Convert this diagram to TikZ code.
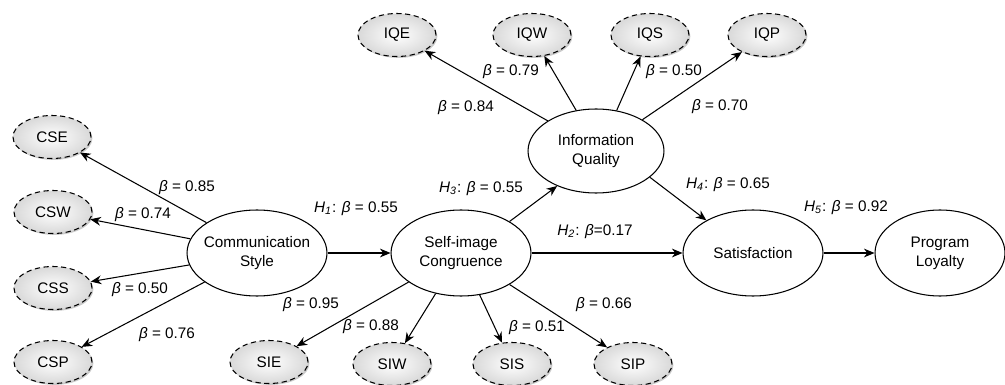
\documentclass[tikz,border=0pt]{standalone}
\usepackage{fontspec}
\setmainfont{Liberation Sans}
\usetikzlibrary{shapes.geometric,arrows.meta,shadows}

\newcommand{\bt}{\textit{β}}
\newcommand{\hyp}[1]{\textit{H\textsubscript{#1}}}

\tikzset{
  construct/.style={ellipse, draw, line width=0.6pt, align=center, inner xsep=-3pt, inner ysep=0pt,
    minimum width=2.8cm, minimum height=1.72cm, font=\fontsize{8.7}{10.8}\selectfont},
  indicator/.style={ellipse, draw, dash pattern=on 3pt off 2pt, line width=0.6pt, inner sep=0pt,
    minimum width=1.56cm, minimum height=0.86cm, inner color=white, outer color=gray!30,
    drop shadow={shadow xshift=0.8pt, shadow yshift=-0.8pt, fill=gray!70, opacity=0.6},
    font=\fontsize{8.7}{10.8}\selectfont},
  link/.style={-{Stealth[length=6pt,width=5pt]}, line width=0.6pt},
  coef/.style={inner sep=1pt, font=\fontsize{8.7}{10.8}\selectfont}
}

\begin{document}
\begin{tikzpicture}[x=0.02cm, y=-0.02cm]
        \useasboundingbox (0,0) rectangle (1005,385);
        % constructs
        \node[construct] (cs) at (257,253) {Communication\\Style};
        \node[construct] (si) at (461,253) {Self-image\\Congruence};
        \node[construct, minimum width=2.72cm, minimum height=1.68cm] (iq) at (596,151) {Information\\Quality};
        \node[construct] (sat) at (753,253) {Satisfaction};
        \node[construct, minimum width=2.6cm] (pl) at (940,253) {Program\\Loyalty};
        % indicators
        \node[indicator] (cse) at (52,137) {CSE};
        \node[indicator] (csw) at (53,212) {CSW};
        \node[indicator] (css) at (53,288) {CSS};
        \node[indicator] (csp) at (53,362) {CSP};
        \node[indicator] (sie) at (269,362) {SIE};
        \node[indicator] (siw) at (392,364) {SIW};
        \node[indicator] (sis) at (512,364) {SIS};
        \node[indicator] (sip) at (633,364) {SIP};
        \node[indicator] (iqe) at (397,35) {IQE};
        \node[indicator] (iqw) at (532,35) {IQW};
        \node[indicator] (iqs) at (650,35) {IQS};
        \node[indicator] (iqp) at (767,35) {IQP};
        % structural paths
        \draw[link] (cs) -- (si);
        \draw[link] (si) -- (sat);
        \draw[link] (si.33) -- (iq.222);
        \draw[link] (iq.-26) -- (sat.145);
        \draw[link] (sat) -- (pl);
        % loadings
        \draw[link] (cs.149) -- (cse);
        \draw[link] (cs.168) -- (csw);
        \draw[link] (cs.190) -- (css);
        \draw[link] (cs.209) -- (csp);
        \draw[link] (si.209) -- (sie);
        \draw[link] (si.238) -- (siw);
        \draw[link] (si.294) -- (sis);
        \draw[link] (si.327) -- (sip);
        \draw[link] (iq.148) -- (iqe);
        \draw[link] (iq.116) -- (iqw);
        \draw[link] (iq.63) -- (iqs);
        \draw[link] (iq.34) -- (iqp);
        % coefficients
        \node[coef] (h1) at (356,209) {\hyp{1}: \bt{} = 0.55};
        \node[coef] (h2) at (595,232) {\hyp{2}: \bt{}=0.17};
        \node[coef] (h3) at (481,189) {\hyp{3}: \bt{} = 0.55};
        \node[coef] (h4) at (728,185) {\hyp{4}: \bt{} = 0.65};
        \node[coef] (h5) at (846,208) {\hyp{5}: \bt{} = 0.92};
        \node[coef] (lcse) at (187,188) {\bt{} = 0.85};
        \node[coef] (lcsw) at (143,215) {\bt{} = 0.74};
        \node[coef] (lcss) at (140,290) {\bt{} = 0.50};
        \node[coef] (lcsp) at (167,335) {\bt{} = 0.76};
        \node[coef] (lsie) at (311,305) {\bt{} = 0.95};
        \node[coef] (lsiw) at (371,327) {\bt{} = 0.88};
        \node[coef] (lsis) at (537,328) {\bt{} = 0.51};
        \node[coef] (lsip) at (604,305) {\bt{} = 0.66};
        \node[coef] (liqe) at (466,108) {\bt{} = 0.84};
        \node[coef] (liqw) at (511,72) {\bt{} = 0.79};
        \node[coef] (liqs) at (674,72) {\bt{} = 0.50};
        \node[coef] (liqp) at (720,107) {\bt{} = 0.70};
\end{tikzpicture}
\end{document}
